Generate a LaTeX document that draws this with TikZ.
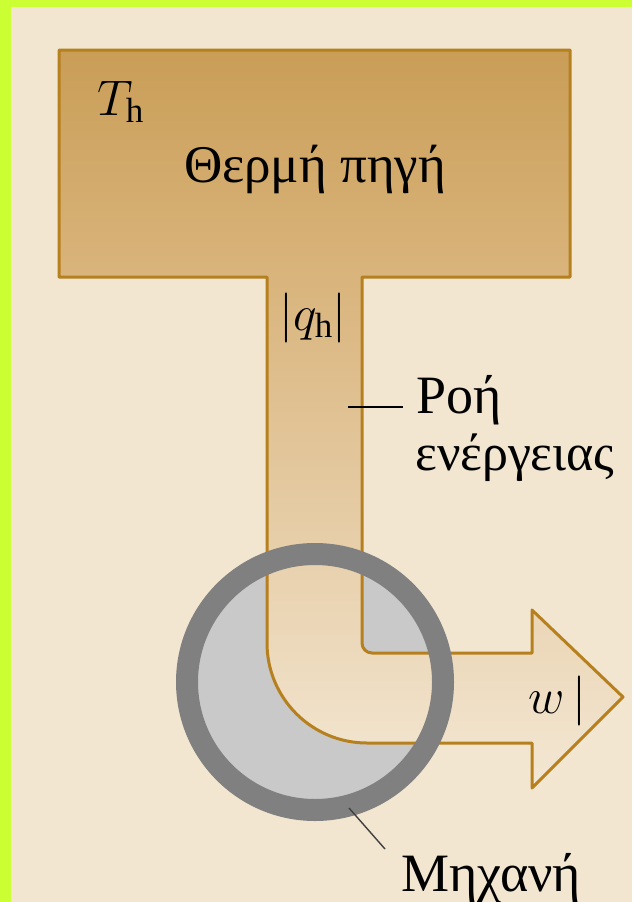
\RequirePackage{fix-cm}
\documentclass[tikz,border=0pt]{standalone}
\usepackage{fontspec}
\setmainfont{Liberation Serif}
\definecolor{lime}{RGB}{204,255,51}
\definecolor{bgbeige}{RGB}{242,230,209}
\definecolor{boxtop}{RGB}{201,157,86}
\definecolor{boxbot}{RGB}{217,180,124}
\definecolor{flowbot}{RGB}{244,232,213}
\definecolor{edge}{RGB}{182,128,30}
\definecolor{ringgray}{RGB}{128,128,128}
\definecolor{engfill}{RGB}{201,201,201}
\tikzset{
  outline/.style={draw=edge, line width=3pt, line join=round},
  ring/.style={draw=ringgray, line width=22pt},
  leader/.style={draw=black, line width=1.4pt},
  lbl/.style={inner sep=0pt, text=black},
}
\begin{document}
\begin{tikzpicture}[x=1pt, y=-1pt]
  \useasboundingbox (0,0) rectangle (632,902);
  \fill[lime] (0,0) rectangle (632,902);
  \fill[bgbeige] (11,7) rectangle (632,902);
  % engine interior
  \fill[engfill] (315,682) circle[radius=130pt];
  % flow shape fill
  \begin{scope}
    \clip (59,50) -- (570,50) -- (570,277) -- (362,277) -- (362,643)
      arc[start angle=180, end angle=270, radius=10pt] -- (532,653) -- (532,610)
      -- (623,697) -- (532,788) -- (532,743) -- (367,743)
      arc[start angle=270, end angle=180, radius=100pt] -- (267,277) -- (59,277) -- cycle;
    \shade[top color=boxtop, bottom color=boxbot] (50,45) rectangle (580,277);
    \shade[top color=boxbot, bottom color=flowbot] (50,277) rectangle (630,795);
  \end{scope}
  \path[outline] (59,50) -- (570,50) -- (570,277) -- (362,277) -- (362,643)
      arc[start angle=180, end angle=270, radius=10pt] -- (532,653) -- (532,610)
      -- (623,697) -- (532,788) -- (532,743) -- (367,743)
      arc[start angle=270, end angle=180, radius=100pt] -- (267,277) -- (59,277) -- cycle;
  % engine ring
  \path[ring] (315,682) circle[radius=128pt];
  % labels
  \node[lbl, anchor=base west, font=\fontsize{50}{60}\selectfont] (th) at (97,115) {$T_{\mathrm{h}}$};
  \node[lbl, anchor=base, font=\fontsize{53}{63}\selectfont] (src) at (315,182) {Θερμή πηγή};
  \node[lbl, anchor=base, font=\fontsize{50}{60}\selectfont] (qh) at (313,330) {$|q_{\mathrm{h}}|$};
  \node[lbl, anchor=base west, font=\fontsize{54}{64}\selectfont] (roh) at (416,413) {Ροή};
  \node[lbl, anchor=base west, font=\fontsize{52}{62}\selectfont] (energ) at (415,470) {ενέργειας};
  \node[lbl, anchor=base west, font=\fontsize{50}{60}\selectfont] (work) at (528,713) {$w\,|$};
  \node[lbl, anchor=base west, font=\fontsize{54}{64}\selectfont] (mech) at (401,891) {Μηχανή};
  % leaders
  \coordinate (rohpt) at (348,407);
  \coordinate (rohend) at (403,407);
  \draw[leader] (rohpt) -- (rohend);
  \coordinate (engpt) at (349,808);
  \coordinate (mechend) at (385,849);
  \draw[leader, draw=black!75] (engpt) -- (mechend);
\end{tikzpicture}
\end{document}
